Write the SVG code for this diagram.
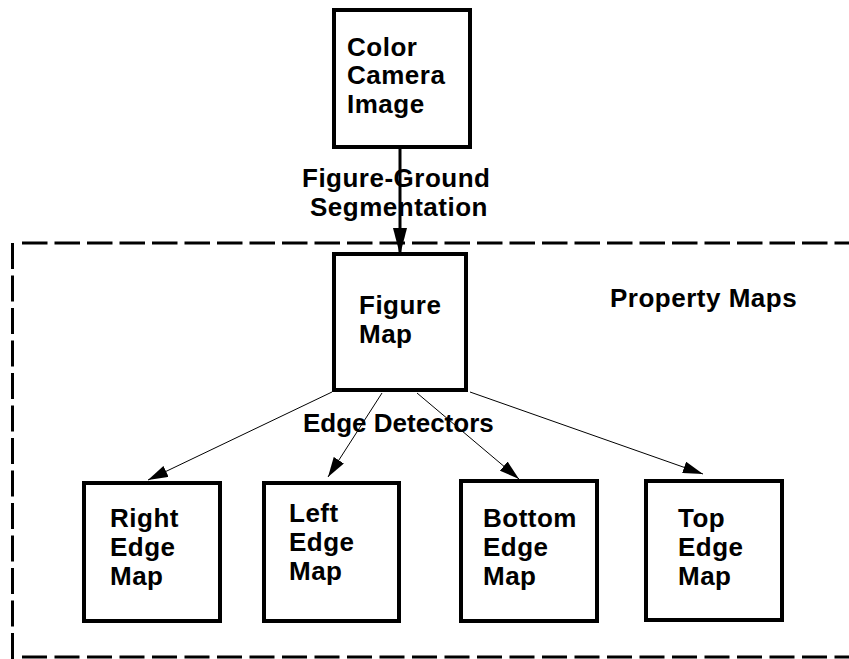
<svg xmlns="http://www.w3.org/2000/svg" width="849" height="659" viewBox="0 0 849 659">
<defs>
<style>
.box{fill:#fff;stroke:#000;stroke-width:4}
.t{font-family:"Liberation Sans",Arial,Helvetica,sans-serif;font-weight:bold;font-size:26px;letter-spacing:0.5px;fill:#000}
.dash{fill:none;stroke:#000;stroke-width:3}
.thin{fill:none;stroke:#000;stroke-width:1}
.thick{fill:none;stroke:#000;stroke-width:3}
</style>
<marker id="ah" viewBox="0 0 20 12" refX="20" refY="6" markerWidth="20" markerHeight="12" markerUnits="userSpaceOnUse" orient="auto">
<path d="M0,0 L20,6 L0,12 Z" fill="#000"/>
</marker>
<marker id="ahb" viewBox="0 0 27 14" refX="27" refY="7" markerWidth="27" markerHeight="14" markerUnits="userSpaceOnUse" orient="auto">
<path d="M0,0 L27,7 L0,14 Z" fill="#000"/>
</marker>
</defs>
<rect width="849" height="659" fill="#fff"/>
<g id="property-maps-region">
<line class="dash" x1="12.5" y1="243" x2="12.5" y2="659" stroke-dasharray="26 6.5"/>
<line class="dash" x1="22" y1="243" x2="849" y2="243" stroke-dasharray="25.5 7"/>
<line class="dash" x1="22" y1="657" x2="849" y2="657" stroke-dasharray="25 7.5"/>
<text class="t" x="610" y="307">Property Maps</text>
</g>
<g id="connectors">
<line class="thick" x1="400" y1="149" x2="400" y2="255" marker-end="url(#ahb)"/>
<line class="thin" x1="332" y1="392" x2="148" y2="480" marker-end="url(#ah)"/>
<line class="thin" x1="382" y1="393" x2="328" y2="477" marker-end="url(#ah)"/>
<line class="thin" x1="417" y1="393" x2="519" y2="479" marker-end="url(#ah)"/>
<line class="thin" x1="470" y1="392" x2="703" y2="474" marker-end="url(#ah)"/>
<text class="t" x="302" y="187">Figure-Ground</text>
<text class="t" x="310" y="216">Segmentation</text>
<text class="t" x="303" y="432" style="letter-spacing:0">Edge Detectors</text>
</g>
<g id="color-camera-image">
<rect class="box" x="334" y="10" width="136" height="137"/>
<text class="t" x="347" y="56">Color</text>
<text class="t" x="347" y="84">Camera</text>
<text class="t" x="347" y="113">Image</text>
</g>
<g id="figure-map">
<rect class="box" x="334" y="254" width="132" height="136" fill="none"/>
<text class="t" x="359" y="314">Figure</text>
<text class="t" x="359" y="343">Map</text>
</g>
<g id="right-edge-map">
<rect class="box" x="84" y="483" width="136" height="138"/>
<text class="t" x="110" y="527">Right</text>
<text class="t" x="110" y="556">Edge</text>
<text class="t" x="110" y="585">Map</text>
</g>
<g id="left-edge-map">
<rect class="box" x="264" y="483" width="135" height="138"/>
<text class="t" x="289" y="522">Left</text>
<text class="t" x="289" y="551">Edge</text>
<text class="t" x="289" y="580">Map</text>
</g>
<g id="bottom-edge-map">
<rect class="box" x="461" y="481" width="136" height="140"/>
<text class="t" x="483" y="527">Bottom</text>
<text class="t" x="483" y="556">Edge</text>
<text class="t" x="483" y="585">Map</text>
</g>
<g id="top-edge-map">
<rect class="box" x="646" y="481" width="136" height="139"/>
<text class="t" x="678" y="527">Top</text>
<text class="t" x="678" y="556">Edge</text>
<text class="t" x="678" y="585">Map</text>
</g>
</svg>
